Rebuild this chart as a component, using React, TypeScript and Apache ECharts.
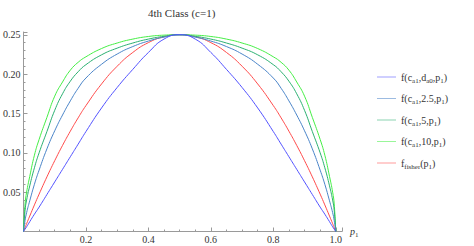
import React, { useEffect, useRef } from "react";
import * as echarts from "echarts";

const TITLE = "4th Class (c=1)";

const P = [0, 0.005, 0.01, 0.02, 0.035, 0.05, 0.075, 0.1, 0.125, 0.15, 0.175, 0.2, 0.25, 0.3, 0.35, 0.4, 0.45, 0.5,
  0.55, 0.6, 0.65, 0.7, 0.75, 0.8, 0.825, 0.85, 0.875, 0.9, 0.925, 0.95, 0.965, 0.98, 0.99, 0.995, 1];

const BLUE_D = [0, 0.003, 0.006, 0.0125, 0.022, 0.031, 0.047, 0.063, 0.079, 0.095, 0.111, 0.127, 0.157, 0.183, 0.206, 0.2275, 0.2445, 0.25,
  0.2445, 0.2275, 0.206, 0.183, 0.157, 0.127, 0.111, 0.095, 0.079, 0.063, 0.047, 0.031, 0.022, 0.0125, 0.006, 0.003, 0];

const STEEL_25 = [0, 0.014, 0.024, 0.039, 0.06, 0.078, 0.105, 0.128, 0.148, 0.166, 0.182, 0.195, 0.2125, 0.2255, 0.235, 0.242, 0.247, 0.25,
  0.247, 0.242, 0.235, 0.2255, 0.2125, 0.195, 0.182, 0.166, 0.148, 0.128, 0.105, 0.078, 0.06, 0.039, 0.024, 0.014, 0];

const TEAL_5 = [0, 0.027, 0.04, 0.058, 0.081, 0.1, 0.127, 0.154, 0.175, 0.191, 0.203, 0.212, 0.2245, 0.233, 0.2395, 0.2445, 0.248, 0.25,
  0.248, 0.2445, 0.2395, 0.233, 0.2245, 0.212, 0.203, 0.191, 0.175, 0.154, 0.127, 0.1, 0.081, 0.058, 0.04, 0.027, 0];

const GREEN_10 = [0, 0.035, 0.05, 0.07, 0.097, 0.117, 0.145, 0.172, 0.19, 0.205, 0.215, 0.222, 0.2325, 0.2395, 0.2445, 0.2478, 0.2495, 0.25,
  0.2495, 0.2478, 0.2445, 0.2395, 0.2325, 0.222, 0.215, 0.205, 0.19, 0.172, 0.145, 0.117, 0.097, 0.07, 0.05, 0.035, 0];

const FISHER = [0, 0.005, 0.01, 0.0196, 0.0338, 0.0475, 0.0694, 0.09, 0.1094, 0.1275, 0.1444, 0.16, 0.1875, 0.21, 0.2275, 0.24, 0.2475, 0.25,
  0.2475, 0.24, 0.2275, 0.21, 0.1875, 0.16, 0.1444, 0.1275, 0.1094, 0.09, 0.0694, 0.0475, 0.0338, 0.0196, 0.01, 0.005, 0];

const SERIES_NAMES = ["blueD", "steel25", "teal5", "green10", "fisher"];
const SERIES_VALUES = [BLUE_D, STEEL_25, TEAL_5, GREEN_10, FISHER];
const SERIES_COLORS = ["#5252ff", "#4a84c8", "#2bb071", "#45ee45", "#ff4a4a"];
const LEGEND_LABELS: Record<string, string> = {
  blueD: "{n|f(c}{s|a1}{n|,d}{s|a0}{n|,p}{s|1}{n|)}",
  steel25: "{n|f(c}{s|a1}{n|,2.5,p}{s|1}{n|)}",
  teal5: "{n|f(c}{s|a1}{n|,5,p}{s|1}{n|)}",
  green10: "{n|f(c}{s|a1}{n|,10,p}{s|1}{n|)}",
  fisher: "{n|f}{s|fisher}{n|(p}{s|1}{n|)}",
};

const X_TICK_LABELS = ["0.2", "0.4", "0.6", "0.8", "1.0"];
const Y_TICK_LABELS = ["0.05", "0.10", "0.15", "0.20", "0.25"];

const FONT = "Liberation Serif";

export default function App() {
  const ref = useRef<HTMLDivElement>(null);
  useEffect(() => {
    const chart = echarts.init(ref.current!, null, { renderer: "svg" });
    const axisColor = "#9a9a9a";
    const rich = {
      n: { fontFamily: FONT, fontSize: 10, color: "#333", lineHeight: 14, verticalAlign: "middle" },
      s: { fontFamily: FONT, fontSize: 7, color: "#333", lineHeight: 8, verticalAlign: "bottom" },
    };
    chart.setOption({
      animation: false,
      color: SERIES_COLORS,
      title: {
        text: TITLE,
        left: 143,
        top: 2,
        textStyle: { fontFamily: FONT, fontSize: 11, fontWeight: "normal", color: "#333" },
      },
      grid: { left: 19, right: 132, top: 32, bottom: 14.5, containLabel: false },
      legend: {
        orient: "vertical",
        left: 372,
        top: 67,
        itemWidth: 19,
        itemHeight: 1,
        itemGap: 9.5,
        icon: "rect",
        data: SERIES_NAMES.map((n, i) => ({
          name: n,
          icon: "rect",
          itemStyle: { color: SERIES_COLORS[i], opacity: 0.55, borderWidth: 0 },
        })),
        formatter: (name: string) => LEGEND_LABELS[name],
        textStyle: { rich },
      },
      xAxis: {
        type: "value",
        min: 0,
        max: 1.02,
        interval: 0.2,
        name: "{i|p}{s|1}",
        nameLocation: "end",
        nameGap: 8,
        nameTextStyle: {
          rich: {
            i: { fontFamily: FONT, fontSize: 10, fontStyle: "italic", color: "#333", lineHeight: 14, verticalAlign: "middle" },
            s: { fontFamily: FONT, fontSize: 7, color: "#333", lineHeight: 8, verticalAlign: "bottom" },
          },
        },
        axisLine: { lineStyle: { color: axisColor, width: 1 } },
        axisTick: { inside: true, length: 4, lineStyle: { color: axisColor } },
        minorTick: { show: true, splitNumber: 4, length: 2, lineStyle: { color: axisColor } },
        splitLine: { show: false },
        axisLabel: {
          showMinLabel: false,
          showMaxLabel: false,
          margin: 3,
          fontFamily: FONT,
          fontSize: 10,
          color: "#333",
          formatter: (v: number) => {
            const idx = Math.round(v / 0.2) - 1;
            return idx >= 0 && idx < X_TICK_LABELS.length ? X_TICK_LABELS[idx] : "";
          },
        },
      },
      yAxis: {
        type: "value",
        min: 0,
        max: 0.2535,
        interval: 0.05,
        axisLine: { show: true, lineStyle: { color: axisColor, width: 1 } },
        axisTick: { show: true, inside: true, length: 4, lineStyle: { color: axisColor } },
        minorTick: { show: true, splitNumber: 5, length: 2, lineStyle: { color: axisColor } },
        splitLine: { show: false },
        axisLabel: {
          showMinLabel: false,
          showMaxLabel: false,
          margin: 3,
          fontFamily: FONT,
          fontSize: 10,
          color: "#333",
          formatter: (v: number) => {
            const idx = Math.round(v / 0.05) - 1;
            return idx >= 0 && idx < Y_TICK_LABELS.length && Math.abs(v - (idx + 1) * 0.05) < 1e-6 ? Y_TICK_LABELS[idx] : "";
          },
        },
      },
      series: SERIES_NAMES.map((n, i) => ({
        name: n,
        type: "line",
        symbol: "none",
        smooth: 0.5,
        data: P.map((p, k) => [p, SERIES_VALUES[i][k]]),
        lineStyle: { color: SERIES_COLORS[i], width: 1 },
        itemStyle: { color: SERIES_COLORS[i] },
        z: 10 - i,
      })),
    });
    return () => chart.dispose();
  }, []);
  return <div ref={ref} style={{ width: 474, height: 246, position: "absolute", left: 0, top: 0 }} />;
}
